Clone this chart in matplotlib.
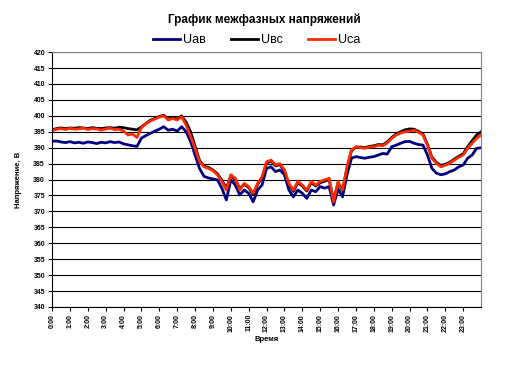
import matplotlib
matplotlib.use('Agg')
import matplotlib.pyplot as plt
import numpy as np

plt.rcParams['font.family'] = ['Liberation Sans', 'DejaVu Sans']

# samples every 15 minutes, 0:00 .. 24:00
hours = np.arange(0, 24.01, 0.25)

u_ab = [392.0, 392.1, 391.8, 391.6, 391.9, 391.5, 391.7, 391.4,
        391.8, 391.6, 391.3, 391.7, 391.5, 391.9, 391.6, 391.8,
        391.2, 390.9, 390.6, 390.4, 393.0, 393.8, 394.5, 395.2,
        395.8, 396.6, 395.5, 395.8, 395.2, 396.6, 395.0, 391.9,
        387.7, 383.5, 381.0, 380.5, 380.2, 379.9, 377.3, 373.6,
        379.9, 378.3, 375.2, 376.7, 375.7, 373.0, 376.7, 378.3,
        383.5, 384.0, 382.5, 383.0, 381.5, 376.7, 374.6, 376.7,
        375.7, 374.1, 376.7, 376.2, 377.8, 377.3, 377.8, 372.0,
        377.0, 374.6, 381.5, 386.7, 387.2, 386.9, 386.7, 387.0,
        387.2, 387.7, 388.2, 388.0, 390.3, 390.8, 391.4, 391.9,
        392.0, 391.4, 391.0, 390.8, 387.7, 383.5, 382.0, 381.5,
        381.8, 382.5, 383.0, 384.0, 384.6, 386.7, 387.7, 389.8,
        390.0]

u_bc = [395.6, 396.0, 396.2, 396.0, 396.2, 396.1, 396.3, 396.2,
        396.0, 396.3, 396.1, 396.0, 396.2, 396.3, 396.1, 396.4,
        396.3, 396.0, 395.8, 395.6, 396.5, 397.6, 398.6, 399.2,
        399.8, 400.2, 399.0, 399.5, 399.0, 400.0, 398.0, 395.0,
        390.5, 386.0, 384.2, 383.8, 383.0, 381.8, 379.8, 377.2,
        381.2, 380.0, 377.2, 378.5, 377.5, 375.3, 378.5, 380.6,
        385.2, 385.8, 384.3, 384.7, 382.6, 378.4, 376.3, 379.0,
        378.0, 376.4, 379.0, 378.0, 379.0, 379.5, 380.0, 373.4,
        379.0, 376.5, 383.6, 389.0, 390.2, 390.2, 390.0, 390.4,
        390.6, 391.0, 390.9, 391.8, 393.2, 394.3, 395.0, 395.6,
        395.9, 395.8, 395.1, 394.3, 391.0, 387.0, 385.4, 384.4,
        384.8, 385.4, 386.4, 387.3, 388.1, 390.3, 392.2, 394.0,
        395.0]

u_ca = [395.3, 395.8, 396.0, 395.7, 396.1, 395.8, 395.9, 396.2,
        395.7, 396.0, 395.9, 395.5, 395.9, 396.1, 395.7, 395.8,
        395.2, 394.0, 394.3, 393.2, 396.3, 397.5, 398.4, 399.0,
        399.6, 400.0, 398.7, 399.2, 398.7, 399.7, 397.1, 393.5,
        389.8, 385.6, 384.0, 383.5, 382.8, 381.5, 379.4, 376.7,
        381.5, 380.4, 376.7, 378.8, 377.8, 375.7, 378.8, 380.9,
        385.6, 386.1, 384.6, 385.0, 383.0, 378.8, 376.7, 379.4,
        378.3, 376.7, 379.4, 378.3, 379.4, 379.9, 380.4, 373.0,
        379.4, 376.7, 384.0, 389.3, 390.3, 390.0, 389.8, 390.2,
        390.3, 390.8, 390.6, 391.5, 392.9, 394.0, 394.6, 395.0,
        395.2, 395.5, 394.8, 394.0, 390.8, 386.7, 385.1, 384.0,
        384.5, 385.1, 386.1, 387.0, 387.7, 389.8, 391.4, 392.9,
        394.0]

hour_labels = ['%d:00' % h for h in range(24)]
y_ticks = list(range(340, 421, 5))

fig = plt.figure(figsize=(5.31, 3.67), dpi=100)
ax = fig.add_axes([0.098, 0.1635, 0.808, 0.6945])

ax.plot(hours, u_ab, color='#000080', lw=2, label='Uав')
ax.plot(hours, u_bc, color='black', lw=2, label='Uвс')
ax.plot(hours, u_ca, color='#FF2A00', lw=2, label='Uca')

ax.set_xlim(0, 24)
ax.set_ylim(340, 420)
ax.set_yticks(y_ticks)
ax.set_yticklabels([str(v) for v in y_ticks], fontsize=5, fontweight='bold')
ax.set_xticks(range(24))
ax.set_xticklabels(hour_labels, rotation=90, fontsize=5, fontweight='bold')
ax.tick_params(length=3, width=0.8, pad=2)

ax.grid(axis='y', color='black', lw=0.8)
ax.set_axisbelow(True)
ax.spines['top'].set_color('#808080')
ax.spines['right'].set_color('#808080')
ax.spines['left'].set_linewidth(0.8)
ax.spines['bottom'].set_linewidth(0.8)

ax.set_xlabel('Время', fontsize=5.5, fontweight='bold')
ax.xaxis.set_label_coords(0.5, -0.115)
ax.set_ylabel('Напряжение, В', fontsize=5.5, fontweight='bold', labelpad=8)

fig.text(0.497, 0.945, 'График межфазных напряжений', ha='center', va='center',
         fontsize=8.5, fontweight='bold')
fig.legend(loc='center', bbox_to_anchor=(0.483, 0.891), ncol=3, frameon=False,
           fontsize=9, handlelength=2.2, columnspacing=2.0, handletextpad=0.2)

fig.savefig('out.png', dpi=100, facecolor='white')
